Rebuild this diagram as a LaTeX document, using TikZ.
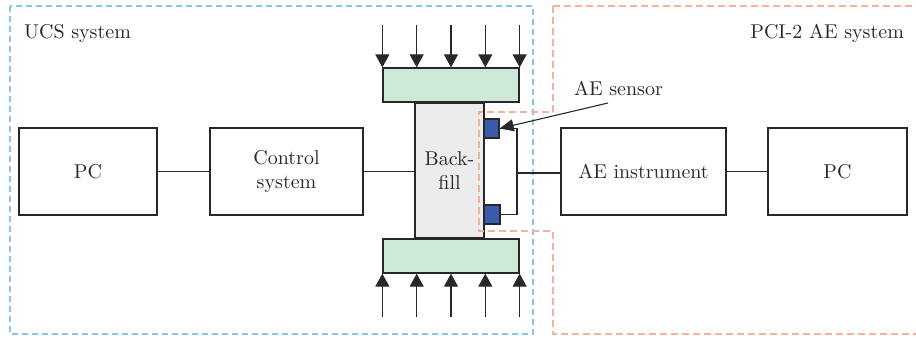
\documentclass[tikz,border=0pt]{standalone}
\usepackage{tikz}
\usetikzlibrary{arrows.meta,positioning,calc}
\definecolor{ucsblue}{RGB}{135,198,238}
\definecolor{aeorange}{RGB}{244,178,158}
\definecolor{plategreen}{RGB}{206,232,216}
\definecolor{fillgray}{RGB}{236,236,236}
\definecolor{sensorblue}{RGB}{58,92,172}
\definecolor{inkgray}{RGB}{40,40,40}
\tikzset{
    unitbox/.style={draw=inkgray, line width=0.65pt, inner sep=1pt, align=center, text=inkgray},
    wire/.style={draw=inkgray, line width=0.55pt},
    load/.style={draw=inkgray, line width=0.55pt, -{Triangle[width=7pt,length=6.5pt]}}
}

\begin{document}
\begin{tikzpicture}[x=0.5pt, y=-0.5pt, font=\normalsize]
            \useasboundingbox (0,0) rectangle (916,338);

            % UCS system
            \draw[ucsblue, line width=0.6pt, dash pattern=on 3pt off 2pt]
                (10,6) rectangle (533,334);
            \node[text=inkgray, anchor=west] (ucslbl) at (17,33) {UCS system};
            \node[unitbox, minimum width=69pt, minimum height=43.5pt] (pcleft) at (88,171.5) {PC};
            \node[unitbox, minimum width=76.5pt, minimum height=43.5pt] (ctrl) at (286.5,171.5) {Control\\system};

            % Specimen and loading plates
            \node[unitbox, fill=fillgray, minimum width=34.5pt, minimum height=67.5pt] (backfill) at (449.5,170.5) {Back-\\fill};
            \node[unitbox, fill=plategreen, minimum width=68pt, minimum height=17pt] (topplate) at (451,85) {};
            \node[unitbox, fill=plategreen, minimum width=68pt, minimum height=17pt] (botplate) at (451,256) {};
            \foreach \f in {0,0.25,...,1} {
                \draw[load] ($(topplate.north west)!\f!(topplate.north east)+(0,-42)$)
                    -- ($(topplate.north west)!\f!(topplate.north east)$);
                \draw[load] ($(botplate.south west)!\f!(botplate.south east)+(0,43)$)
                    -- ($(botplate.south west)!\f!(botplate.south east)$);
            }

            % AE sensors
            \node[unitbox, fill=sensorblue, inner sep=0pt, minimum width=7.5pt, minimum height=9.5pt] (sensa) at (491.5,128.5) {};
            \node[unitbox, fill=sensorblue, inner sep=0pt, minimum width=8pt, minimum height=9.5pt] (sensb) at (492,214.5) {};
            \coordinate (bus) at (517,173);

            % PCI-2 AE system
            \draw[aeorange, line width=0.6pt, dash pattern=on 3.5pt off 2pt]
                (553,6) -- (920,6) (920,334) -- (553,334) -- (553,231) -- (479,231)
                -- (479,112) -- (553,112) -- (553,6);
            \node[text=inkgray, anchor=east] (aelbl) at (911,33) {PCI-2 AE system};
            \node[unitbox, minimum width=82.5pt, minimum height=43.5pt] (aeinst) at (643.5,171.5) {AE instrument};
            \node[unitbox, minimum width=69.5pt, minimum height=43.5pt] (pcright) at (837.5,171.5) {PC};
            \node[text=inkgray, anchor=west] (sensorlbl) at (567,88) {AE sensor};
            \coordinate (lblfoot) at (608,103);

            % connections
            \draw[wire] (pcleft.east) -- (ctrl.west);
            \draw[wire] (ctrl.east) -- (ctrl.east -| backfill.west);
            \draw[wire] (sensa.east) -| (bus) |- (sensb.east);
            \draw[wire] (bus) -- (bus -| aeinst.west);
            \draw[wire] (aeinst.east) -- (pcright.west);
            \draw[wire, -{Triangle[width=6pt,length=7pt]}] (lblfoot) -- (sensa.east);
        \end{tikzpicture}
\end{document}
